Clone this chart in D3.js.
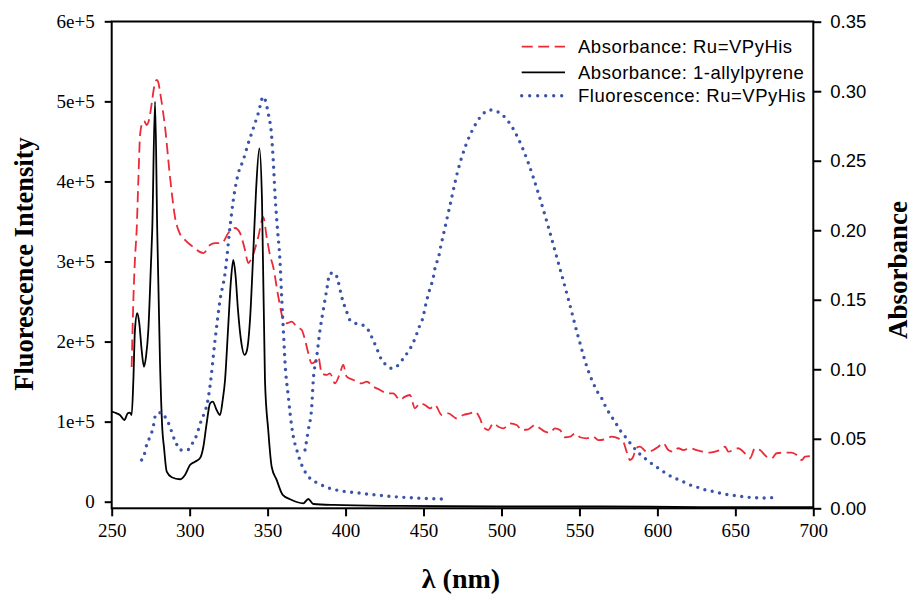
<!DOCTYPE html>
<html>
<head>
<meta charset="utf-8">
<script src="https://cdn.jsdelivr.net/npm/d3@7"></script>
<style>
  body { margin: 0; background: #fff; }
  svg { display: block; }
</style>
</head>
<body>
<div id="chart"></div>
<script>
// absorbance of 1-allylpyrene (right axis)
const wlAllyl = [250, 253.2, 255.3, 258.1, 260.3, 261.7, 262.8, 263.9, 264.9, 266.4, 267.7, 269.2, 270.7, 272.0, 273.5, 275.2, 276.0, 277.8, 279.2, 281.0, 282.5, 283.5, 285.3, 288.5, 293.8, 297.0, 300.2, 303.4, 306.6, 308.8, 310.9, 313.1, 314.8, 317.3, 319.5, 321.2, 322.7, 324.6, 326.5, 328.0, 329.4, 331.0, 332.9, 335.2, 336.8, 338.7, 340.6, 342.6, 344.7, 346.4, 348.3, 350.4, 352.6, 355.8, 359.7, 364.4, 372.9, 376.1, 379.3, 392.1, 434.9, 499.0, 563.2, 627.3, 700]
const absAllyl = [0.0695, 0.0683, 0.0671, 0.0635, 0.0683, 0.0688, 0.0671, 0.0923, 0.1282, 0.1403, 0.1331, 0.1139, 0.1018, 0.1090, 0.1282, 0.1762, 0.2002, 0.2925, 0.2002, 0.1043, 0.0563, 0.0443, 0.0263, 0.0223, 0.0209, 0.0240, 0.0311, 0.0335, 0.0360, 0.0443, 0.0611, 0.0755, 0.0767, 0.0707, 0.0671, 0.0779, 0.0923, 0.1282, 0.1642, 0.1786, 0.1678, 0.1426, 0.1211, 0.1103, 0.1139, 0.1354, 0.1786, 0.2289, 0.2589, 0.2217, 0.0923, 0.0563, 0.0299, 0.0204, 0.0096, 0.0065, 0.0036, 0.0067, 0.0031, 0.0024, 0.0017, 0.0013, 0.0013, 0.0009, 0.0009]

// absorbance of Ru=VPyHis (right axis)
const wlRu = [262.8, 263.9, 264.9, 266.0, 267.1, 268.2, 269.4, 270.7, 272.4, 273.9, 275.7, 277.1, 278.9, 280.0, 281.0, 282.6, 284.2, 287.4, 290.6, 293.8, 295.9, 302.3, 308.8, 313.0, 316.3, 320.6, 324.8, 329.1, 332.3, 335.5, 337.6, 339.8, 344.0, 347.2, 349.4, 351.5, 353.6, 356.9, 360.1, 362.2, 365.4, 368.7, 371.9, 374.0, 376.1, 378.3, 380.4, 382.5, 384.7, 387.9, 390.0, 393.2, 396.4, 398.5, 400.7, 405.0, 410.3, 413.6, 417.8, 422.1, 426.4, 430.6, 434.9, 438.1, 441.3, 444.5, 447.7, 450.9, 454.2, 457.4, 461.7, 465.9, 471.3, 475.5, 479.8, 483.0, 486.2, 488.3, 491.5, 494.8, 498.0, 501.2, 505.5, 509.8, 513.0, 517.2, 521.5, 524.7, 527.9, 531.1, 534.3, 537.5, 540.7, 544.0, 547.2, 550.4, 554.7, 558.9, 562.1, 566.4, 570.7, 574.9, 578.1, 580.3, 582.4, 584.5, 586.3, 588.8, 593.1, 597.4, 600.6, 603.8, 607.0, 610.2, 613.4, 616.6, 620.9, 625.2, 629.4, 633.7, 636.9, 640.1, 643.4, 645.5, 648.7, 651.9, 655.1, 659.4, 662.6, 665.8, 670.1, 673.3, 676.5, 680.8, 686.1, 689.4, 692.6, 694.7, 697.9, 700]
const absRu = [0.1016, 0.1498, 0.1786, 0.2002, 0.2361, 0.2685, 0.2764, 0.2786, 0.2757, 0.2793, 0.2915, 0.3023, 0.3081, 0.3059, 0.2995, 0.2879, 0.2743, 0.2383, 0.2095, 0.1973, 0.1944, 0.1879, 0.1836, 0.1894, 0.1908, 0.1908, 0.1980, 0.2016, 0.1980, 0.1858, 0.1764, 0.1800, 0.1951, 0.2095, 0.1951, 0.1822, 0.1736, 0.1520, 0.1354, 0.1331, 0.1342, 0.1306, 0.1282, 0.1211, 0.1115, 0.1043, 0.1054, 0.1090, 0.0971, 0.0959, 0.0971, 0.0899, 0.0971, 0.1031, 0.0947, 0.0923, 0.0899, 0.0911, 0.0875, 0.0851, 0.0827, 0.0827, 0.0779, 0.0803, 0.0815, 0.0719, 0.0755, 0.0743, 0.0719, 0.0743, 0.0671, 0.0683, 0.0647, 0.0671, 0.0683, 0.0695, 0.0647, 0.0587, 0.0563, 0.0611, 0.0587, 0.0575, 0.0611, 0.0599, 0.0563, 0.0568, 0.0599, 0.0575, 0.0551, 0.0544, 0.0575, 0.0563, 0.0511, 0.0515, 0.0539, 0.0511, 0.0503, 0.0515, 0.0491, 0.0496, 0.0515, 0.0503, 0.0479, 0.0407, 0.0347, 0.0371, 0.0432, 0.0443, 0.0407, 0.0419, 0.0443, 0.0468, 0.0419, 0.0407, 0.0432, 0.0419, 0.0432, 0.0419, 0.0407, 0.0400, 0.0407, 0.0419, 0.0443, 0.0407, 0.0419, 0.0432, 0.0407, 0.0360, 0.0432, 0.0419, 0.0371, 0.0360, 0.0396, 0.0400, 0.0400, 0.0383, 0.0347, 0.0371, 0.0376, 0.0347]

// fluorescence of Ru=VPyHis (left axis, x 1e5), two traces
const wlFluoA = [269.2, 271.4, 272.4, 274.6, 276.3, 278.4, 282.1, 285.3, 287.4, 289.1, 291.2, 293.8, 298.5, 302.0, 304.5, 306.2, 307.7, 309.8, 311.3, 313.0, 316.3, 319.5, 322.7, 325.9, 328.0, 331.2, 334.4, 337.6, 340.8, 344.0, 347.2, 350.4, 352.6, 353.6, 354.7, 356.2, 357.9, 359.0, 360.1, 361.2, 363.3, 364.4, 366.5, 368.7, 371.9, 377.2, 382.5, 387.9, 396.4, 407.1, 417.8, 431.7, 462.5]
const fluoA = [0.521, 0.624, 0.708, 0.812, 0.904, 1.095, 1.112, 1.020, 0.937, 0.833, 0.737, 0.646, 0.646, 0.737, 0.833, 0.937, 1.029, 1.124, 1.229, 1.436, 2.02, 2.52, 2.853, 3.435, 3.768, 4.101, 4.268, 4.476, 4.663, 4.851, 5.058, 4.851, 4.559, 4.268, 3.852, 3.434, 3.019, 2.560, 2.144, 1.728, 1.311, 1.104, 0.812, 0.646, 0.458, 0.292, 0.230, 0.180, 0.137, 0.112, 0.087, 0.062, 0.034]
const wlFluoB = [374.0, 376.1, 378.3, 379.3, 381.5, 383.6, 385.7, 387.9, 390.0, 393.2, 395.3, 397.5, 400.7, 402.8, 407.5, 412.5, 415.7, 417.8, 420.0, 422.1, 425.3, 429.6, 433.8, 437.5, 440.9, 443.4, 445.6, 447.3, 449.5, 451.6, 454.2, 455.9, 457.8, 459.5, 461.0, 462.7, 467.0, 472.1, 477.2, 482.4, 487.5, 492.6, 497.8, 504.2, 510.6, 517.0, 523.4, 529.9, 536.3, 542.7, 549.1, 555.5, 558.9, 561.5, 564.3, 566.8, 569.6, 572.8, 576.0, 579.7, 583.5, 587.8, 592.5, 597.0, 601.7, 606.4, 611.4, 615.6, 619.8, 624.8, 629.4, 634.2, 639.1, 643.8, 648.7, 653.4, 658.3, 663.2, 667.9, 672.9, 678.0]
const fluoB = [0.646, 0.895, 1.186, 1.520, 1.811, 2.144, 2.394, 2.644, 2.853, 2.853, 2.748, 2.560, 2.373, 2.269, 2.219, 2.194, 2.103, 2.011, 1.916, 1.811, 1.720, 1.666, 1.707, 1.803, 1.895, 1.986, 2.094, 2.186, 2.290, 2.478, 2.665, 2.769, 2.956, 3.040, 3.185, 3.331, 3.703, 4.140, 4.455, 4.680, 4.830, 4.892, 4.867, 4.755, 4.542, 4.243, 3.868, 3.443, 2.994, 2.544, 2.069, 1.645, 1.479, 1.374, 1.291, 1.186, 1.092, 0.999, 0.895, 0.804, 0.708, 0.612, 0.533, 0.467, 0.405, 0.342, 0.292, 0.258, 0.217, 0.187, 0.155, 0.134, 0.112, 0.092, 0.080, 0.067, 0.055, 0.050, 0.046, 0.050, 0.067]

const xTicks = [250, 300, 350, 400, 450, 500, 550, 600, 650, 700]
const leftTicks = [0, 1e5, 2e5, 3e5, 4e5, 5e5, 6e5]
const rightTicks = [0, 0.05, 0.10, 0.15, 0.20, 0.25, 0.30, 0.35]
const legendLabels = ["Absorbance: Ru=VPyHis", "Absorbance: 1-allylpyrene", "Fluorescence: Ru=VPyHis"]

const W = 913, H = 595
const red = "#ec2a37", blue = "#3b54a8"

const svg = d3.select("#chart").append("svg")
  .attr("width", W).attr("height", H)

const x = d3.scaleLinear().domain([250, 700]).range([111.7, 813.3])
const yL = d3.scaleLinear().domain([0, 6e5]).range([501.7, 21.3])
const yR = d3.scaleLinear().domain([0, 0.35]).range([508.3, 21.7])

svg.append("clipPath").attr("id", "clip")
  .append("rect").attr("x", 111.7).attr("y", 21.5).attr("width", 701.6).attr("height", 486.8)

// curves
const plot = svg.append("g").attr("clip-path", "url(#clip)")

const lineR = d3.line().x(d => x(d[0])).y(d => yR(d[1])).curve(d3.curveMonotoneX)
const lineL = d3.line().x(d => x(d[0])).y(d => yL(d[1] * 1e5)).curve(d3.curveMonotoneX)

plot.append("path")
  .attr("d", lineR(d3.zip(wlRu, absRu)))
  .attr("fill", "none").attr("stroke", red).attr("stroke-width", 1.8)
  .attr("stroke-dasharray", "11,5.5")

plot.append("path")
  .attr("d", lineR(d3.zip(wlAllyl, absAllyl)))
  .attr("fill", "none").attr("stroke", "#000").attr("stroke-width", 1.8)

for (const [wl, f] of [[wlFluoA, fluoA], [wlFluoB, fluoB]]) {
  plot.append("path")
    .attr("d", lineL(d3.zip(wl, f)))
    .attr("fill", "none").attr("stroke", blue).attr("stroke-width", 3.4)
    .attr("stroke-linecap", "round")
    .attr("stroke-dasharray", "0,7.5")
}

// frame
svg.append("rect")
  .attr("x", 111.7).attr("y", 21.5).attr("width", 701.6).attr("height", 486.8)
  .attr("fill", "none").attr("stroke", "#000").attr("stroke-width", 2)

// axes
const gx = svg.append("g").attr("transform", "translate(0,508.3)")
  .call(d3.axisBottom(x).tickValues(xTicks).tickSize(8).tickPadding(7).tickFormat(d3.format("d")))
const gl = svg.append("g").attr("transform", "translate(111.7,0)")
  .call(d3.axisLeft(yL).tickValues(leftTicks).tickSize(7).tickPadding(10)
    .tickFormat(d => d === 0 ? "0" : (d / 1e5) + "e+5"))
const gr = svg.append("g").attr("transform", "translate(813.3,0)")
  .call(d3.axisRight(yR).tickValues(rightTicks).tickSize(8).tickPadding(9).tickFormat(d3.format(".2f")))

for (const g of [gx, gl, gr]) {
  g.select(".domain").remove()
  g.selectAll(".tick line").attr("stroke", "#000").attr("stroke-width", 2)
  g.selectAll("text").attr("fill", "#000")
}
gx.attr("font-family", "'Liberation Serif', serif").attr("font-size", 19)
gx.selectAll("text").style("font", "19px 'Liberation Serif', serif")
gl.selectAll("text").style("font", "19px 'Liberation Serif', serif")
gr.selectAll("text").style("font", "18.5px 'Liberation Sans', Arial, sans-serif")

// axis titles
svg.append("text")
  .attr("transform", "translate(33,264) rotate(-90)")
  .attr("text-anchor", "middle")
  .style("font", "bold 26.5px 'Liberation Serif', serif")
  .text("Fluorescence Intensity")

svg.append("text")
  .attr("transform", "translate(907,270) rotate(-90)")
  .attr("text-anchor", "middle")
  .style("font", "bold 27px 'Liberation Serif', serif")
  .text("Absorbance")

svg.append("text")
  .attr("x", 461).attr("y", 588)
  .attr("text-anchor", "middle")
  .style("font", "bold 28px 'Liberation Serif', serif")
  .text("λ (nm)")

// legend
const legY = [46.7, 72.3, 95.7]
const leg = svg.append("g")
legendLabels.forEach((t, i) => {
  const ln = leg.append("line")
    .attr("x1", 521.7).attr("x2", i === 2 ? 562 : 565)
    .attr("y1", legY[i]).attr("y2", legY[i])
  if (i === 0) ln.attr("stroke", red).attr("stroke-width", 1.8).attr("stroke-dasharray", "11,5.5")
  if (i === 1) ln.attr("stroke", "#000").attr("stroke-width", 1.8)
  if (i === 2) ln.attr("stroke", blue).attr("stroke-width", 3.4).attr("stroke-linecap", "round").attr("stroke-dasharray", "0,8")
  leg.append("text")
    .attr("x", 578).attr("y", legY[i]).attr("dy", "0.36em")
    .style("font", "18.5px 'Liberation Sans', Arial, sans-serif")
    .style("letter-spacing", "0.5px")
    .text(t)
})
</script>
</body>
</html>
